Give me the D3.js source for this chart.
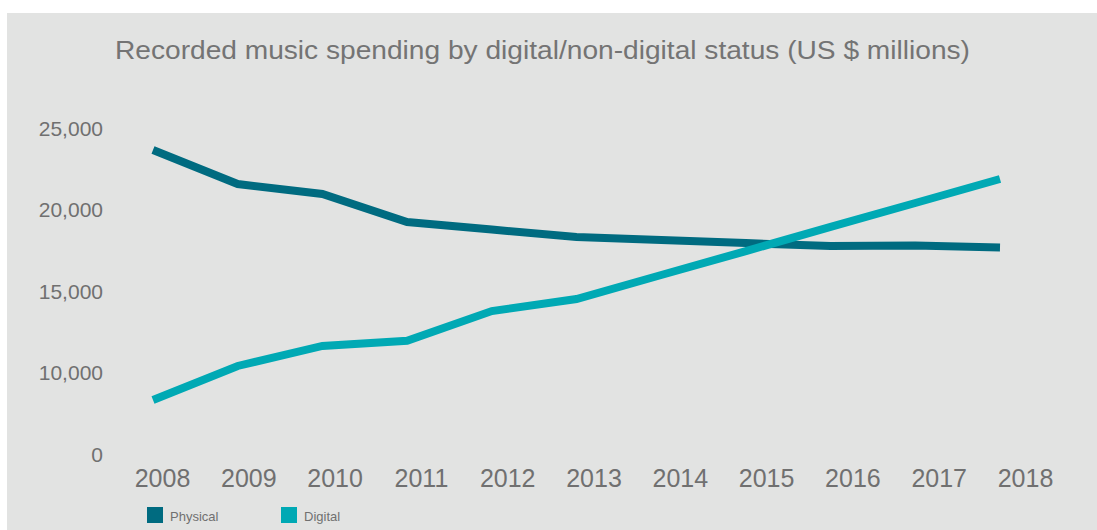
<!DOCTYPE html>
<html>
<head>
<meta charset="utf-8">
<script src="https://cdn.jsdelivr.net/npm/d3@7"></script>
<style>
  html, body { margin: 0; padding: 0; background: #ffffff; }
  svg { display: block; }
</style>
</head>
<body>
<svg id="chart" width="1097" height="530"></svg>
<script>
// ---- Data ----
const years = ["2008","2009","2010","2011","2012","2013","2014","2015","2016","2017","2018"];
const physical = [23650, 21560, 20950, 19230, 18770, 18310, 18130, 17940, 17760, 17790, 17670];
const digital  = [8310, 10400, 11630, 11950, 13770, 14510, 15980, 17450, 18930, 20400, 21870];
const yTickValues = [5000, 10000, 15000, 20000, 25000];
const yTickLabels = ["0", "10,000", "15,000", "20,000", "25,000"];
const seriesNames = ["Physical", "Digital"];
const seriesColors = ["#006b80", "#00a9b4"];
const titleText = "Recorded music spending by digital/non-digital status (US $ millions)";

const W = 1097, H = 530;
const svg = d3.select("#chart");
const font = "'Liberation Sans', Arial, Helvetica, sans-serif";
const textColor = "#707070";

// panel background
svg.append("rect").attr("x", 7).attr("y", 13).attr("width", W - 7).attr("height", H - 13)
  .attr("fill", "#e2e3e2");

// title
svg.append("text").attr("x", 115).attr("y", 59)
  .attr("font-family", font).attr("font-size", 26.5).attr("fill", "#747474")
  .attr("textLength", 855).attr("lengthAdjust", "spacingAndGlyphs")
  .text(titleText);

// scales
const x = d3.scalePoint().domain(years).range([153, 1000]);
const xLabel = d3.scalePoint().domain(years).range([162, 1025]);
const y = d3.scaleLinear().domain([5000, 25000]).range([454, 128]);

// y axis
const yAxis = d3.axisLeft(y).tickValues(yTickValues)
  .tickFormat((d, i) => yTickLabels[i]).tickSize(0).tickPadding(0);
const gy = svg.append("g").attr("transform", "translate(103,0)").call(yAxis);
gy.select(".domain").remove();
gy.selectAll("text").attr("font-family", font).attr("font-size", 21)
  .attr("fill", textColor).attr("dy", "0.35em");

// x axis
const xAxis = d3.axisBottom(xLabel).tickSize(0).tickPadding(0);
const gx = svg.append("g").attr("transform", "translate(0,469)").call(xAxis);
gx.select(".domain").remove();
gx.selectAll("text").attr("font-family", font).attr("font-size", 25)
  .attr("fill", textColor).attr("dy", "0.71em");

// lines
const line = d3.line().x((d, i) => x(years[i])).y(d => y(d));
[physical, digital].forEach((s, k) => {
  svg.append("path").datum(s).attr("d", line)
    .attr("fill", "none").attr("stroke", seriesColors[k])
    .attr("stroke-width", 8).attr("stroke-linejoin", "miter")
    .attr("stroke-linecap", "butt");
});

// legend
const legendX = [147, 281];
seriesNames.forEach((name, k) => {
  const g = svg.append("g").attr("transform", `translate(${legendX[k]},507)`);
  g.append("rect").attr("width", 16).attr("height", 16).attr("fill", seriesColors[k]);
  g.append("text").attr("x", 23).attr("y", 13.5)
    .attr("font-family", font).attr("font-size", 13).attr("fill", textColor)
    .text(name);
});
</script>
</body>
</html>
